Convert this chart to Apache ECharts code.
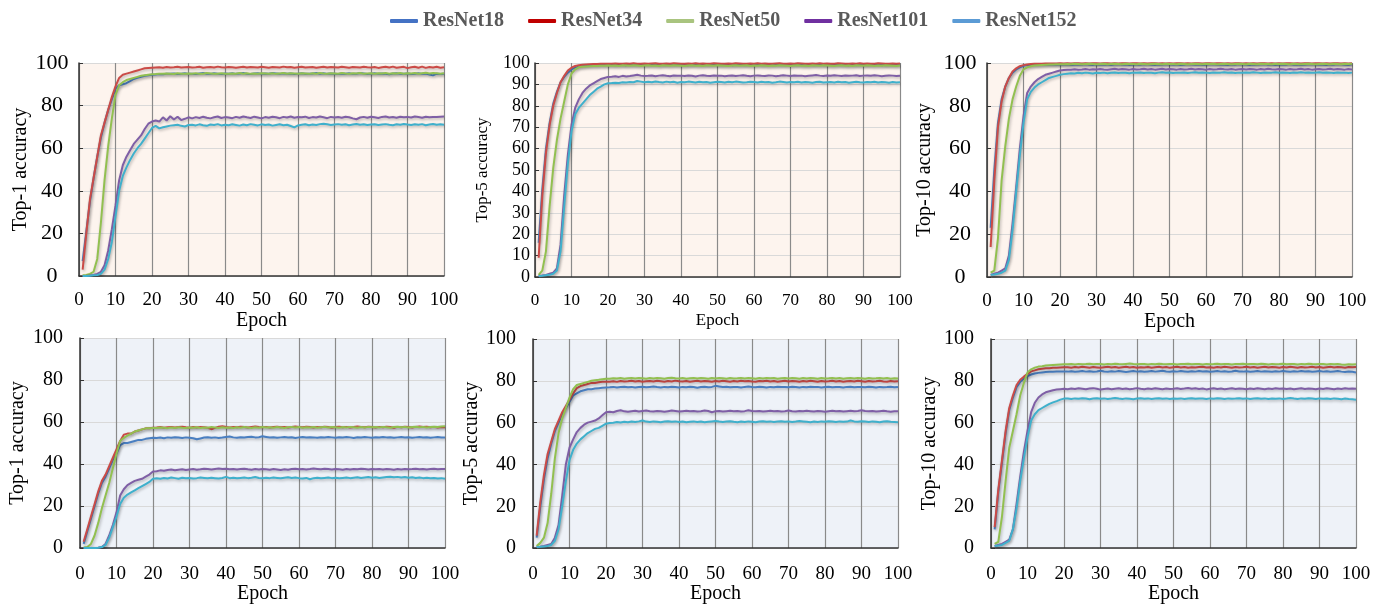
<!DOCTYPE html>
<html>
<head>
<meta charset="utf-8">
<script src="https://cdn.jsdelivr.net/npm/echarts@6/dist/echarts.min.js"></script>
<style>
html, body { margin: 0; padding: 0; background: #fff; }
#chart { width: 1381px; height: 605px; }
</style>
</head>
<body>
<div id="chart"></div>
<script>
// 模型名称 (legend)
var models = ['ResNet18', 'ResNet34', 'ResNet50', 'ResNet101', 'ResNet152'];
var yNames = ['Top-1 accuracy', 'Top-5 accuracy', 'Top-10 accuracy', 'Top-1 accuracy', 'Top-5 accuracy', 'Top-10 accuracy'];
var xName = 'Epoch';
// values for epochs 1..100

// ---- upper row, Top-1 ----
var top1A_r18 = [7,21,35,46,56,65,72,78,83,88,
89.5,90,90.5,91.5,92.5,93,93.5,94,94.3,94.5,
94.6,94.8,94.7,95.0,94.9,95.1,94.8,95.0,95.2,94.9,
95.0,94.8,95.1,95.3,95.0,94.9,95.2,95.0,94.8,95.1,
95.0,95.2,94.9,95.1,95.3,95.0,94.8,95.1,95.2,94.9,
95.1,95.0,95.3,95.1,94.9,95.2,95.0,95.1,94.8,95.0,
95.2,95.0,94.9,95.1,95.3,95.0,95.2,94.9,95.1,95.0,
94.8,95.1,95.0,95.2,94.9,95.0,95.3,95.1,94.8,95.0,
95.2,94.9,95.1,95.0,94.7,95.1,95.2,94.9,95.0,95.1,
94.8,95.0,95.2,94.9,95.1,94.6,94.2,95.0,94.8,95.0];
var top1A_r34 = [3,20,36,46,56,66,72,78,84,89,
93,94.5,95,95.5,96,96.5,97,97.5,97.7,97.8,
97.9,98.0,97.8,98.1,97.9,98.0,98.2,97.9,98.0,98.1,
97.9,98.0,98.2,97.8,98.0,98.1,97.9,98.3,98.0,97.9,
98.1,98.0,97.8,98.0,98.2,97.9,98.1,98.0,97.9,98.2,
98.0,97.8,98.1,98.0,97.9,98.3,98.0,98.1,97.8,98.0,
98.2,97.9,98.0,98.1,97.8,98.0,98.2,97.9,98.1,98.0,
97.9,98.2,98.0,97.8,98.1,98.0,97.9,98.2,98.0,97.9,
98.1,97.7,98.0,98.2,97.9,98.3,97.8,98.0,98.2,97.6,
98.0,98.2,97.8,98.3,97.7,98.1,97.9,98.2,97.8,98.0];
var top1A_r50 = [0.3,0.5,1,2,8,25,45,61,74,85,
89.5,91,92,92.5,93,93.5,94,94.3,94.5,94.7,
94.8,95.0,94.9,95.1,95.0,94.8,95.2,95.0,94.9,95.1,
95.0,95.2,94.9,95.0,95.3,95.1,94.9,95.0,95.2,95.0,
94.9,95.1,95.0,95.3,95.0,95.2,94.9,95.1,95.0,95.2,
95.1,95.0,95.2,94.9,95.1,95.3,95.0,95.2,95.1,95.0,
95.2,95.1,94.9,95.2,95.0,95.3,95.1,95.0,95.2,95.1,
95.0,95.3,95.1,95.0,95.2,95.1,95.3,95.0,95.1,95.2,
95.0,95.2,95.1,95.3,95.0,95.2,95.1,95.3,95.0,95.2,
95.1,95.3,95.0,95.2,95.4,95.1,95.3,95.2,95.0,95.2];
var top1A_r101 = [0,0,0.2,0.5,1,2,5,12,22,33,
45,52,56,59,62,64,66,69,71.5,72.5,
73.0,72.5,74.5,73.0,75.0,73.5,74.8,73.2,73.8,74.5,
74.0,74.6,74.2,74.8,74.3,74.0,74.5,74.9,74.2,74.6,
74.4,74.1,74.7,74.3,74.9,74.5,74.2,74.8,74.4,74.0,
74.6,74.3,74.8,74.5,74.1,74.7,74.4,74.9,74.3,74.6,
74.5,74.8,74.2,74.6,74.4,74.9,74.5,74.1,74.7,74.4,
74.6,74.3,74.8,74.5,74.0,73.6,74.4,74.7,74.3,74.8,
74.5,74.2,74.7,74.9,74.4,74.6,74.3,74.8,74.5,74.7,
74.4,74.9,74.6,74.3,74.8,74.5,74.7,74.6,74.8,74.9];
var top1A_r152 = [0,0,0.1,0.3,0.5,1,3,8,16,28,
40,47,51,54.5,57.5,60,62,64.5,67,69.5,
70.5,69.3,69.8,70.2,70.6,70.8,71.0,70.5,70.2,70.9,
71.0,70.7,71.2,70.8,70.5,71.1,70.9,71.3,70.7,71.0,
70.8,71.2,70.9,70.6,71.1,70.8,71.3,71.0,70.7,71.2,
70.9,71.1,70.6,70.9,71.2,70.8,71.0,70.4,69.8,70.7,
71.0,71.2,70.8,71.1,70.9,71.3,71.5,71.2,70.9,71.1,
71.3,71.0,71.2,70.8,71.1,71.4,71.0,71.2,70.9,71.1,
71.2,70.9,71.1,71.3,71.0,70.8,71.2,71.0,71.4,71.1,
70.9,71.2,71.0,71.3,70.8,71.1,71.4,71.0,71.2,71.0];

// ---- upper row, Top-5 ----
var top5A_r18 = [16,41,60,72,81,86.5,91,93.5,95.5,97,
97.8,98.3,98.6,98.8,98.9,99,99,99.1,99.1,99.2,
99.2,99.1,99.3,99.2,99.0,99.3,99.2,99.1,99.3,99.2,
99.1,99.3,99.2,99.0,99.2,99.3,99.1,99.2,99.3,99.1,
99.2,99.0,99.3,99.2,99.1,99.3,99.2,99.1,99.2,99.3,
99.1,99.2,99.3,99.0,99.2,99.1,99.3,99.2,99.1,99.2,
99.3,99.1,99.2,99.0,99.3,99.2,99.1,99.3,99.2,99.1,
99.2,99.3,99.1,99.2,99.0,99.3,99.2,99.1,99.3,99.2,
99.1,99.2,99.3,99.1,99.2,99.0,99.3,99.2,99.1,99.2,
99.3,99.1,99.2,99.3,99.0,99.2,99.1,99.3,99.2,99.1];
var top5A_r34 = [9,38,58,71,80,86,91,94,96.5,97.8,
98.6,99,99.2,99.3,99.4,99.5,99.5,99.6,99.6,99.7,
99.7,99.8,99.6,99.7,99.8,99.7,99.9,99.7,99.6,99.8,
99.7,99.8,99.9,99.7,99.6,99.8,99.7,99.9,99.8,99.7,
99.6,99.8,99.7,99.9,99.7,99.8,99.6,99.7,99.9,99.8,
99.7,99.6,99.8,99.7,99.9,99.8,99.7,99.6,99.8,99.7,
99.9,99.7,99.8,99.6,99.7,99.8,99.9,99.7,99.6,99.8,
99.7,99.9,99.8,99.7,99.6,99.8,99.7,99.9,99.7,99.8,
99.6,99.7,99.9,99.8,99.7,99.6,99.8,99.7,99.9,99.7,
99.8,99.6,99.7,99.9,99.8,99.7,99.6,99.8,99.7,99.8];
var top5A_r50 = [1,3,12,33,51,64,74,82,90,95,
97,98,98.3,98.4,98.5,98.6,98.6,98.7,98.7,98.8,
98.7,98.8,98.6,98.9,98.8,98.7,98.9,98.8,98.6,98.8,
98.9,98.7,98.8,98.6,98.9,98.8,98.7,98.9,98.8,98.7,
98.6,98.8,98.9,98.7,98.8,98.6,98.9,98.8,98.7,98.9,
98.8,98.7,98.6,98.8,98.9,98.7,98.8,98.9,98.6,98.8,
98.7,98.9,98.8,98.6,98.8,98.7,98.9,98.8,98.7,98.6,
98.8,98.9,98.7,98.8,98.6,98.9,98.8,98.7,98.9,98.8,
98.7,98.6,98.8,98.9,98.7,98.8,98.6,98.9,98.8,98.7,
98.9,98.8,98.6,98.8,98.7,98.9,98.8,98.7,98.6,98.8];
var top5A_r101 = [0.5,0.7,1,1.5,2,4,15,38,57,71,
79,83,86,88,89.5,90.5,91.5,92.5,93,93.5,
93.6,93.8,93.5,94.0,93.7,93.9,94.2,94.5,94.1,93.9,
94.0,94.2,93.8,94.1,94.3,94.0,93.8,94.2,94.0,94.1,
93.9,94.2,94.0,93.7,94.1,94.3,94.0,93.9,94.2,94.0,
94.1,93.8,94.0,94.2,93.9,94.1,94.3,94.0,93.8,94.1,
94.2,94.0,93.9,94.2,94.1,93.8,94.0,94.3,94.1,93.9,
94.2,94.0,94.1,93.8,94.0,94.2,94.4,94.1,93.9,94.2,
94.0,94.3,94.1,93.9,94.2,94.0,94.1,94.3,93.9,94.1,
94.2,94.0,94.3,94.1,93.8,94.0,94.2,94.1,93.9,94.0];
var top5A_r152 = [0.5,0.6,0.8,1,1.5,3,12,33,53,68,
76,79,81,83,85,86.5,88,89,90,90.5,
90.6,90.8,90.7,91.0,90.9,91.1,91.0,91.6,91.3,91.0,
91.2,91.0,91.4,91.1,90.9,91.3,91.0,91.2,90.8,91.1,
91.0,91.3,91.1,90.9,91.2,91.0,91.1,90.8,91.0,91.2,
91.1,90.9,91.2,91.0,91.3,91.1,90.9,91.0,91.2,91.1,
90.9,91.2,91.0,91.1,90.8,91.0,91.3,91.1,90.9,91.1,
91.0,91.2,90.9,91.1,91.0,90.8,91.1,91.2,90.9,91.0,
91.1,90.9,91.2,91.0,91.1,90.8,91.0,91.2,91.0,90.9,
91.1,91.0,91.2,90.9,91.1,91.0,90.8,91.1,90.9,91.0];

// ---- upper row, Top-10 ----
var top10A_r18 = [23,50,72,83,89,93,95.5,97,98,98.7,
99,99.1,99.2,99.2,99.3,99.3,99.3,99.4,99.3,99.4,
99.3,99.4,99.2,99.3,99.4,99.3,99.5,99.3,99.2,99.4,
99.3,99.4,99.3,99.2,99.4,99.5,99.3,99.4,99.2,99.3,
99.4,99.3,99.5,99.4,99.3,99.2,99.4,99.3,99.5,99.4,
99.3,99.4,99.2,99.3,99.5,99.4,99.3,99.4,99.2,99.3,
99.4,99.5,99.3,99.4,99.3,99.2,99.4,99.3,99.5,99.4,
99.3,99.2,99.4,99.3,99.4,99.5,99.3,99.4,99.2,99.3,
99.4,99.3,99.5,99.3,99.4,99.2,99.3,99.4,99.5,99.3,
99.4,99.3,99.2,99.4,99.3,99.5,99.4,99.3,99.2,99.4];
var top10A_r34 = [14,45,70,82,89,93,96,97.5,98.5,99,
99.3,99.5,99.6,99.7,99.7,99.8,99.8,99.8,99.8,99.9,
99.8,99.9,99.8,99.9,99.9,99.8,99.9,99.8,99.9,99.9,
99.8,99.9,99.9,99.8,99.9,99.8,99.9,99.9,99.8,99.9,
99.9,99.8,99.9,99.8,99.9,99.9,99.8,99.9,99.8,99.9,
99.8,99.9,99.9,99.8,99.9,99.8,99.9,99.9,99.8,99.9,
99.9,99.8,99.9,99.9,99.8,99.9,99.8,99.9,99.9,99.8,
99.9,99.8,99.9,99.8,99.9,99.9,99.8,99.9,99.8,99.9,
99.8,99.9,99.9,99.8,99.9,99.8,99.9,99.9,99.8,99.9,
99.9,99.8,99.9,99.8,99.9,99.9,99.8,99.9,99.8,99.9];
var top10A_r50 = [2,3,18,45,61,74,83,89,94,97,
98,98.5,98.8,99,99.1,99.2,99.3,99.3,99.4,99.4,
99.4,99.5,99.4,99.6,99.5,99.4,99.5,99.6,99.5,99.4,
99.5,99.6,99.4,99.5,99.6,99.5,99.4,99.6,99.5,99.5,
99.4,99.6,99.5,99.4,99.5,99.6,99.5,99.4,99.6,99.5,
99.5,99.4,99.6,99.5,99.4,99.5,99.6,99.5,99.4,99.6,
99.5,99.6,99.4,99.5,99.6,99.5,99.4,99.5,99.6,99.5,
99.4,99.6,99.5,99.4,99.6,99.5,99.5,99.4,99.6,99.5,
99.6,99.5,99.4,99.6,99.5,99.4,99.5,99.6,99.5,99.4,
99.5,99.6,99.5,99.4,99.6,99.5,99.4,99.6,99.5,99.6];
var top10A_r101 = [1,1.5,2,3,4,10,25,42,60,75,
86,89,91,92.5,93.5,94.5,95,95.5,96,96.5,
96.7,96.9,96.8,97.1,96.9,97.0,97.2,96.9,97.1,97.0,
97.2,97.0,96.9,97.1,97.3,97.0,97.2,97.1,96.9,97.2,
97.0,97.1,97.3,97.0,97.2,96.9,97.1,97.3,97.0,97.2,
97.1,96.9,97.2,97.0,97.1,97.3,97.0,97.2,97.1,96.9,
97.2,97.0,97.1,97.3,97.1,97.0,97.2,96.9,97.1,97.2,
97.0,97.2,97.1,96.9,97.2,97.0,97.3,97.1,97.0,97.2,
97.1,96.9,97.2,97.0,97.1,97.3,97.0,97.2,96.9,97.1,
97.2,97.0,97.1,97.3,97.0,97.2,97.1,96.9,97.2,97.0];
var top10A_r152 = [1,1.2,1.5,2,3,8,22,40,57,72,
83,86.5,88.5,90,91,92,93,93.5,94,94.5,
94.8,95.0,95.2,95.1,95.4,95.2,95.5,95.3,95.1,95.4,
95.3,95.5,95.2,95.4,95.6,95.3,95.5,95.4,95.2,95.5,
95.4,95.6,95.3,95.5,95.4,95.2,95.5,95.7,95.4,95.6,
95.3,95.5,95.4,95.6,95.3,95.5,95.7,95.4,95.6,95.5,
95.3,95.6,95.4,95.5,95.7,95.4,95.6,95.3,95.5,95.4,
95.6,95.4,95.7,95.5,95.3,95.6,95.4,95.5,95.7,95.4,
95.6,95.5,95.3,95.6,95.4,95.7,95.5,95.6,95.4,95.5,
95.7,95.4,95.6,95.5,95.3,95.6,95.4,95.5,95.3,95.5];

// ---- lower row, Top-1 ----
var top1B_r18 = [2,8,14,20,26,31,34,38,42,45,
49,50,50,50.5,51,51.5,51.5,52,52.3,52.5,
52.4,52.6,52.3,52.7,52.5,52.8,52.6,52.4,52.7,52.5,
52.3,51.8,52.2,52.6,52.8,52.5,52.7,52.4,52.6,52.9,
53.1,52.7,52.5,52.8,52.6,52.9,53.0,52.7,52.8,53.2,
52.9,52.6,52.8,52.5,52.7,52.9,52.6,52.8,52.4,52.7,
52.9,52.6,52.8,52.7,52.5,52.8,52.6,52.9,52.7,52.5,
52.8,52.6,52.9,52.7,52.4,52.8,52.6,52.9,52.7,52.5,
52.8,52.6,52.9,52.7,52.8,52.5,52.7,52.9,52.6,52.8,
52.5,52.7,52.9,52.6,52.8,52.5,52.7,52.9,52.6,52.7];
var top1B_r34 = [3,9,15,21,27,32,35,39,43,47,
51,54,54.5,54.5,55.5,56,56.5,57,57,57.3,
57.4,57.6,57.3,57.5,57.7,57.4,57.6,57.8,57.5,57.3,
57.6,57.4,57.7,57.5,57.3,56.6,57.2,57.8,58.0,57.6,
57.4,57.7,57.5,57.8,57.6,57.4,57.7,57.9,57.6,57.5,
57.7,57.4,57.6,57.8,57.5,57.7,57.4,57.6,57.9,57.7,
57.5,57.8,57.6,57.4,57.7,57.5,57.8,57.6,57.3,57.6,
57.8,57.5,57.7,57.4,57.6,57.9,57.7,57.5,57.8,57.6,
57.4,57.7,57.5,57.8,57.6,57.3,57.7,57.5,57.8,57.6,
57.4,57.7,57.9,57.6,57.8,57.5,57.7,57.4,57.6,57.5];
var top1B_r50 = [0.3,0.5,2,6,12,19,25,31,38,45,
51,52.5,53.5,54.5,55.5,56,56.5,57,57,57.2,
57.2,57.4,57.3,57.1,57.4,57.2,57.5,57.3,57.2,57.4,
57.3,57.5,57.2,57.4,57.3,57.6,57.4,57.2,57.5,57.3,
57.4,57.2,57.5,57.3,57.6,57.4,57.2,57.5,57.3,57.6,
57.4,57.5,57.3,57.6,57.4,57.2,57.5,57.7,57.4,57.6,
57.3,57.5,57.4,57.6,57.3,57.5,57.7,57.4,57.6,57.5,
57.3,57.6,57.4,57.7,57.5,57.3,57.6,57.4,57.7,57.5,
57.6,57.4,57.7,57.5,57.3,57.6,57.8,57.5,57.7,57.4,
57.6,57.8,57.5,57.7,57.4,57.6,57.8,57.6,57.9,58.0];
var top1B_r101 = [0,0,0,0,0.2,0.5,2,6,11,17,
25,28,30,31,32,32.5,33,34,35,36.5,
36.6,37.0,36.8,37.2,37.4,37.1,37.3,37.5,37.2,37.4,
37.6,37.3,37.5,37.8,37.6,37.4,37.7,37.9,37.6,37.8,
37.5,37.7,37.4,37.6,37.8,37.5,37.3,37.6,37.4,37.7,
37.5,37.3,37.6,37.4,37.2,37.5,37.3,37.6,37.8,37.5,
37.7,37.4,37.6,37.9,37.7,37.5,37.8,37.6,37.4,37.7,
37.5,37.3,37.6,37.4,37.7,37.5,37.8,37.6,37.4,37.7,
37.5,37.6,37.4,37.7,37.5,37.3,37.6,37.4,37.7,37.5,
37.6,37.8,37.5,37.7,37.4,37.6,37.8,37.5,37.7,37.6];
var top1B_r152 = [0,0,0,0,0.2,0.5,1.5,5,10,15,
21,24,25.5,26.5,27.5,28.5,29.5,30.5,31.5,33,
33.2,33.0,33.4,33.1,33.6,33.3,33.0,33.5,33.2,33.4,
33.1,33.3,33.6,33.4,33.2,33.5,33.3,33.1,33.4,33.9,
33.3,33.5,33.2,33.4,33.6,33.3,33.5,33.8,33.4,33.2,
33.5,33.3,33.6,33.4,33.2,33.5,33.7,33.4,33.6,33.3,
33.1,33.4,32.8,33.3,33.5,33.2,33.4,33.6,33.3,33.5,
33.2,33.4,33.6,33.3,33.5,33.7,33.4,33.6,33.8,33.5,
33.7,33.4,33.6,33.8,34.0,33.7,33.9,33.6,33.8,33.5,
33.7,33.4,33.6,33.3,33.5,33.2,33.4,33.1,33.3,33.0];

// ---- lower row, Top-5 ----
var top5B_r18 = [5,20,33,43,50,56,60,64,67,70,
73,74,75,75.5,76,76,76.3,76.5,76.7,76.8,
76.9,77.1,76.8,77.0,77.2,76.9,77.1,76.8,77.0,77.2,
76.9,77.1,77.3,77.0,76.8,77.1,76.9,77.2,77.0,76.8,
77.1,76.9,77.2,77.0,76.7,77.0,77.2,76.9,77.1,77.6,
77.3,77.0,77.2,76.9,77.1,77.0,76.8,77.1,77.3,77.0,
76.9,77.2,77.0,76.8,77.1,76.9,77.2,77.0,77.1,76.9,
77.2,77.0,76.8,77.1,76.9,77.2,77.0,77.1,76.8,77.0,
77.2,76.9,77.1,77.0,76.8,77.1,77.2,76.9,77.0,77.1,
76.9,77.2,77.0,76.8,77.1,76.9,77.0,77.2,76.9,77.1];
var top5B_r34 = [6,22,35,45,51,57,61,65,68,71,
74,76.5,77.5,78,78.5,79,79,79.3,79.5,79.5,
79.6,79.8,79.5,79.9,79.7,79.8,80.0,79.7,79.9,79.6,
79.8,79.9,79.7,80.0,79.8,79.6,79.9,79.7,80.1,79.8,
79.7,79.9,79.6,79.8,80.0,79.7,79.9,79.8,79.6,79.9,
79.7,80.0,79.8,79.6,79.9,79.7,80.0,79.8,79.9,79.7,
79.6,79.9,79.8,80.0,79.7,79.9,79.6,79.8,80.0,79.7,
79.9,79.8,79.6,79.9,79.7,80.0,79.8,79.6,79.9,79.7,
79.8,80.0,79.7,79.9,79.6,79.8,79.9,79.7,80.0,79.8,
79.6,79.9,79.7,79.8,80.0,79.7,79.6,79.9,79.7,79.8];
var top5B_r50 = [1,2.5,5,12,26,43,55,62,67,72,
76,78,78.5,79,79.5,80,80.3,80.5,80.8,81,
81.0,81.2,81.1,81.3,81.0,81.2,81.4,81.1,81.3,81.2,
81.0,81.3,81.1,81.4,81.2,81.0,81.3,81.5,81.2,81.1,
81.3,81.0,81.2,81.4,81.1,81.3,81.2,81.0,81.3,81.1,
81.4,81.2,81.0,81.3,81.1,81.2,81.4,81.1,81.3,81.2,
81.0,81.3,81.1,81.4,81.2,81.3,81.0,81.2,81.4,81.1,
81.3,81.2,81.0,81.3,81.1,81.4,81.2,81.0,81.3,81.1,
81.2,81.4,81.1,81.3,81.0,81.2,81.3,81.1,81.4,81.2,
81.0,81.3,81.1,81.2,81.4,81.1,81.3,81.0,81.2,81.1];
var top5B_r101 = [0.5,0.7,1,1.5,2,5,11,25,40,48,
52,55.5,57.5,59,60,60.5,61,62,63.5,65,
65.2,65.0,65.6,65.9,65.4,65.2,65.5,65.7,65.3,65.6,
65.8,65.5,65.3,65.6,65.4,65.2,65.5,65.8,65.6,65.3,
65.5,65.7,65.4,65.6,65.3,65.5,65.8,65.6,65.0,65.4,
65.6,65.3,65.5,65.7,65.4,65.6,65.3,65.5,65.9,65.6,
65.4,65.6,65.3,65.5,65.7,65.4,65.6,65.3,65.5,65.8,
65.5,65.3,65.6,65.4,65.7,65.5,65.3,65.6,65.4,65.2,
65.5,65.7,65.4,65.6,65.3,65.5,65.7,65.4,65.6,65.9,
65.6,65.4,65.6,65.3,65.5,65.7,65.4,65.2,65.5,65.4];
var top5B_r152 = [0.5,0.6,0.8,1,1.5,3.5,9,20,32,42,
47,50,52,53.5,55,56,57,57.5,58.5,59.5,
59.8,60.0,60.3,60.1,60.4,60.2,60.5,60.3,60.6,61.0,
60.5,60.3,60.6,60.4,60.2,60.5,60.7,60.4,60.6,60.3,
60.5,60.2,60.4,60.6,60.3,60.5,60.2,60.4,60.6,60.8,
60.5,60.3,60.5,60.7,60.4,60.2,60.5,60.3,60.6,60.4,
60.2,60.5,60.7,60.4,60.6,60.3,60.5,60.7,60.4,60.6,
60.3,60.5,60.8,60.6,60.4,60.2,60.5,60.3,60.6,60.4,
60.7,60.5,60.3,60.6,60.4,60.5,61.0,60.6,60.4,60.7,
60.5,60.3,60.6,60.4,60.2,60.5,60.7,60.4,60.3,60.2];

// ---- lower row, Top-10 ----
var top10B_r18 = [9,27,41,55,66,72,77,79.5,81,82.3,
83,83.5,83.8,84,84.2,84.3,84.3,84.4,84.4,84.5,
84.4,84.6,84.3,84.5,84.7,84.4,84.6,84.3,84.5,84.8,
84.5,84.3,84.6,84.4,84.7,84.5,84.2,84.5,84.7,84.4,
84.6,84.3,84.5,84.7,84.4,84.6,84.8,84.5,84.3,84.6,
84.4,84.7,84.5,84.3,84.6,84.4,84.7,84.5,84.6,84.3,
84.5,84.7,84.4,84.6,84.3,84.5,84.8,84.5,84.4,84.6,
84.3,84.5,84.7,84.4,84.6,84.5,84.3,84.6,84.4,84.7,
84.5,84.3,84.6,84.4,84.7,84.5,84.6,84.3,84.5,84.7,
84.4,84.6,84.3,84.5,84.7,84.4,84.2,84.5,84.3,84.0];
var top10B_r34 = [10,28,42,56,67,73,78,80.5,82,83.3,
84.5,85,85.5,85.8,86,86,86.2,86.3,86.4,86.5,
86.5,86.3,86.6,86.4,86.7,86.5,86.3,86.6,86.4,86.2,
86.5,86.7,86.4,86.6,86.3,86.5,86.7,86.4,86.6,86.3,
86.5,86.4,86.6,86.3,86.5,86.7,86.4,86.6,86.2,86.5,
86.7,86.4,86.6,86.3,86.5,86.4,86.6,86.7,86.4,86.5,
86.3,86.6,86.4,86.7,86.5,86.3,86.6,86.4,86.5,86.7,
86.4,86.6,86.3,86.5,86.7,86.4,86.6,86.5,86.3,86.6,
86.4,86.7,86.5,86.3,86.6,86.4,86.5,86.7,86.4,86.6,
86.3,86.5,86.7,86.4,86.6,86.5,86.3,86.6,86.5,86.6];
var top10B_r50 = [2,3,15,32,48,56,64,73,79,84,
85.5,86.3,86.8,87,87.3,87.5,87.6,87.7,87.8,87.9,
87.9,88.0,87.8,88.1,87.9,88.0,88.2,87.9,88.1,88.0,
87.8,88.1,87.9,88.2,88.0,87.9,88.1,88.3,88.0,87.9,
88.1,88.0,87.8,88.1,87.9,88.2,88.0,87.9,88.1,88.0,
87.8,88.1,88.0,88.2,87.9,88.1,88.0,87.8,88.1,87.9,
88.0,88.2,87.9,88.1,88.0,87.8,88.1,88.0,88.2,87.9,
88.1,88.0,87.9,88.2,88.0,87.8,88.1,87.9,88.0,88.2,
87.9,88.1,88.0,87.8,88.1,87.9,88.2,88.0,87.9,88.1,
88.0,87.8,88.1,87.9,88.0,87.8,87.7,87.9,87.8,87.9];
var top10B_r101 = [1,1.5,2,3,4,9,21,34,46,56,
65,69.5,72,73.5,74.5,75,75.5,75.8,76,76.2,
76.0,76.3,76.1,76.4,76.2,76.0,76.3,76.5,76.2,75.8,
76.1,76.3,76.0,76.2,76.4,76.1,76.3,76.0,76.2,76.5,
76.2,76.0,76.3,76.1,76.4,76.2,76.0,76.3,76.1,76.2,
76.4,76.1,76.3,76.6,76.2,76.4,76.1,76.3,75.9,76.2,
76.4,76.1,76.3,76.0,76.2,76.4,76.1,76.3,76.2,76.0,
76.3,76.1,76.4,76.2,76.0,76.3,76.1,76.4,76.2,76.3,
76.1,76.3,76.0,76.2,76.4,76.1,76.3,76.2,76.0,76.3,
76.1,76.4,76.2,76.0,76.3,76.1,76.4,76.2,76.3,76.2];
var top10B_r152 = [1,1.2,1.5,2.5,3.5,9,19,32,43,53,
61,64,66,67,68,69,69.7,70.3,71,71.5,
71.5,71.3,71.6,71.4,71.7,71.5,71.2,71.5,71.7,71.4,
71.6,71.3,71.5,71.8,71.5,71.3,71.6,71.4,71.2,71.5,
71.7,71.4,71.6,71.3,71.5,71.7,71.4,71.6,71.3,71.5,
71.4,71.6,71.3,71.5,71.7,71.4,71.6,71.5,71.3,71.6,
71.4,71.7,71.5,71.3,71.6,71.4,71.5,71.7,71.4,71.6,
71.3,71.5,71.7,71.4,71.6,71.3,71.5,71.4,71.6,71.3,
71.5,71.8,71.5,71.3,71.6,71.4,71.7,71.5,71.3,71.6,
71.4,71.5,71.3,71.6,71.4,71.2,71.5,71.3,71.2,71.0];

var panelData = [
  [top1A_r18, top1A_r34, top1A_r50, top1A_r101, top1A_r152],
  [top5A_r18, top5A_r34, top5A_r50, top5A_r101, top5A_r152],
  [top10A_r18, top10A_r34, top10A_r50, top10A_r101, top10A_r152],
  [top1B_r18, top1B_r34, top1B_r50, top1B_r101, top1B_r152],
  [top5B_r18, top5B_r34, top5B_r50, top5B_r101, top5B_r152],
  [top10B_r18, top10B_r34, top10B_r50, top10B_r101, top10B_r152]
];

// 样式
var FONT = 'Liberation Serif, Times New Roman, serif';
var lineColors = ['#4a7fc1', '#cb4b47', '#92c050', '#7f5fa6', '#3fb0cc'];
var legendColors = ['#4472c4', '#c00000', '#a9c47f', '#7030a0', '#5b9bd5'];
var peach = '#fdf4ee', blueBg = '#eef2f8';

// 每个子图的位置
var layout = [
  { left: 79,  top: 63,  width: 365, height: 213, bg: peach,  step: 20, yfs: 22, align: 'center', ym: 27, gap: 48, xfs: 19, nfs: 20, xm: 15, xg: 34 },
  { left: 535, top: 63,  width: 365, height: 214, bg: peach,  step: 10, yfs: 18, align: 'right',  ym: 5,  gap: 44, xfs: 17, nfs: 17, xm: 15, xg: 35 },
  { left: 987, top: 63,  width: 365, height: 214, bg: peach,  step: 20, yfs: 22, align: 'center', ym: 27, gap: 52, xfs: 19, nfs: 20, xm: 15, xg: 34 },
  { left: 80,  top: 338, width: 365, height: 215, bg: blueBg, step: 20, yfs: 20, align: 'right',  ym: 17, gap: 52, xfs: 19, nfs: 20, xm: 16, xg: 34 },
  { left: 533, top: 339, width: 365, height: 213, bg: blueBg, step: 20, yfs: 20, align: 'right',  ym: 17, gap: 48, xfs: 19, nfs: 20, xm: 16, xg: 35 },
  { left: 991, top: 339, width: 365, height: 213, bg: blueBg, step: 20, yfs: 20, align: 'right',  ym: 17, gap: 48, xfs: 19, nfs: 20, xm: 16, xg: 35 }
];

var grids = [], xAxes = [], yAxes = [], series = [];
layout.forEach(function (L, p) {
  grids.push({
    left: L.left, top: L.top, width: L.width, height: L.height,
    show: true, backgroundColor: L.bg, borderWidth: 0
  });
  xAxes.push({
    gridIndex: p, type: 'value', min: 0, max: 100, interval: 10,
    name: xName, nameLocation: 'middle', nameGap: L.xg,
    nameTextStyle: { fontFamily: FONT, fontSize: L.nfs, color: '#000' },
    axisLine: { show: true, onZero: false, lineStyle: { color: '#333', width: 1.5 } },
    axisTick: { show: false },
    axisLabel: { fontFamily: FONT, fontSize: L.xfs, color: '#000', margin: L.xm },
    splitLine: { show: true, lineStyle: { color: '#8a8a8a', width: 1.2 } }
  });
  yAxes.push({
    gridIndex: p, type: 'value', min: 0, max: 100, interval: L.step,
    name: yNames[p], nameLocation: 'middle', nameGap: L.gap,
    nameTextStyle: { fontFamily: FONT, fontSize: L.nfs, color: '#000' },
    axisLine: { show: true, lineStyle: { color: '#333', width: 1.5 } },
    axisTick: { show: true, inside: true, length: 4, lineStyle: { color: '#333' } },
    axisLabel: { fontFamily: FONT, fontSize: L.yfs, color: '#000', margin: L.ym, align: L.align },
    splitLine: { show: true, lineStyle: { color: '#d9d9d9', width: 1 } }
  });
  panelData[p].forEach(function (vals, k) {
    series.push({
      name: models[k], type: 'line', xAxisIndex: p, yAxisIndex: p,
      data: vals.map(function (v, i) { return [i + 1, v]; }),
      showSymbol: false, symbol: 'none',
      lineStyle: {
        width: 2, color: lineColors[k],
        shadowColor: 'rgba(0,0,0,0.28)', shadowBlur: 3, shadowOffsetX: 1, shadowOffsetY: 1.5
      },
      itemStyle: { color: lineColors[k] }
    });
  });
});

var option = {
  animation: false,
  textStyle: { fontFamily: FONT },
  legend: {
    left: 385, top: 6,
    icon: 'roundRect', itemWidth: 28, itemHeight: 4, itemGap: 24,
    textStyle: { fontFamily: FONT, fontSize: 20, fontWeight: 'bold', color: '#595959' },
    data: models.map(function (m, i) {
      return { name: m, itemStyle: { color: legendColors[i] } };
    })
  },
  grid: grids,
  xAxis: xAxes,
  yAxis: yAxes,
  series: series
};

var myChart = echarts.init(document.getElementById('chart'));
myChart.setOption(option);
</script>
</body>
</html>
